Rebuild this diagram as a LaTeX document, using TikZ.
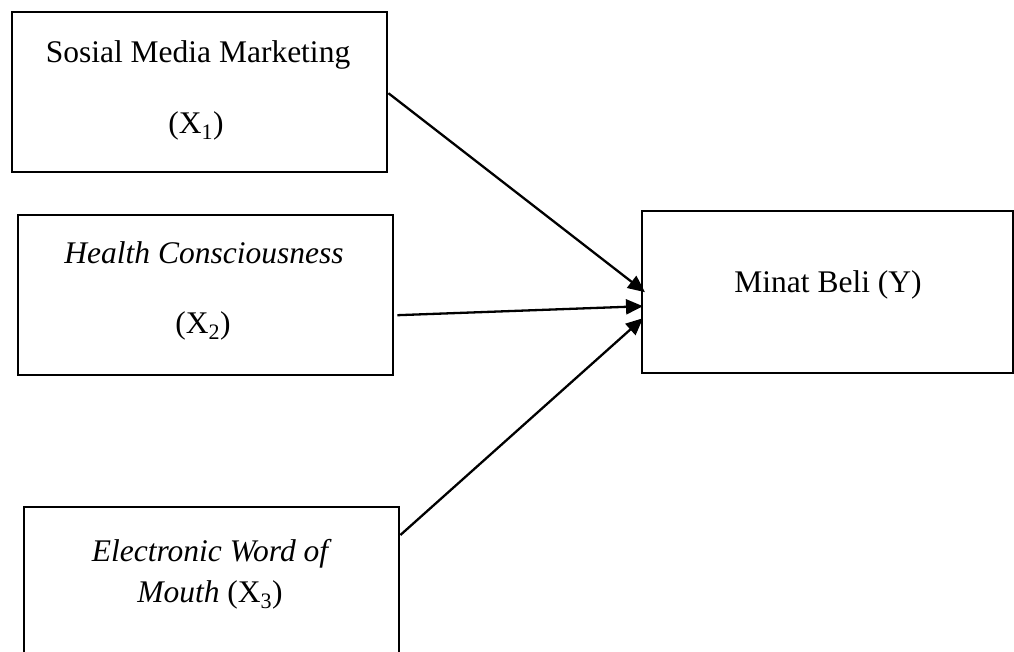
\documentclass[tikz,border=0pt]{standalone}
\usepackage{fontspec}
\setmainfont{Liberation Serif}
\usetikzlibrary{arrows.meta}
\tikzset{
  varbox/.style={draw,line width=2.4pt,minimum width=375pt,minimum height=160pt,anchor=north west,inner sep=0pt},
  lab/.style={font=\fontsize{31.5}{38}\selectfont,anchor=base,inner sep=0pt},
  arr/.style={line width=2.3pt,-{Triangle[length=17pt,width=15pt]}},
}
\begin{document}
\begin{tikzpicture}[x=1pt,y=-1pt]
  \useasboundingbox (0,0) rectangle (1014,652);
  \clip (0,0) rectangle (1014,652);
  \node[varbox] (x1) at (11,11) {};
  \node[varbox] (x2) at (17,214) {};
  \node[varbox] (x3) at (23,506) {};
  \node[varbox,minimum width=371pt,minimum height=162pt] (y) at (641,210) {};
  \node[lab] (x1a) at (198,63) {Sosial Media Marketing};
  \node[lab] (x1b) at (196,134) {(X\textsubscript{1})};
  \node[lab] (x2a) at (204,263) {\itshape Health Consciousness};
  \node[lab] (x2b) at (203,333) {(X\textsubscript{2})};
  \node[lab] (x3a) at (210,561) {\itshape Electronic Word of};
  \node[lab] (x3b) at (210,602) {\textit{Mouth} (X\textsubscript{3})};
  \node[lab] (ya) at (828,292) {Minat Beli (Y)};
  \draw[arr] ([yshift=-1pt]x1.east) -- ([xshift=4pt]y.west);
  \draw[arr] ([shift={(3pt,-20pt)}]x2.east) -- ([shift={(2pt,-14pt)}]y.west);
  \draw[arr] ([yshift=-29pt]x3.north east) -- ([shift={(2pt,-26pt)}]y.west);
\end{tikzpicture}
\end{document}
